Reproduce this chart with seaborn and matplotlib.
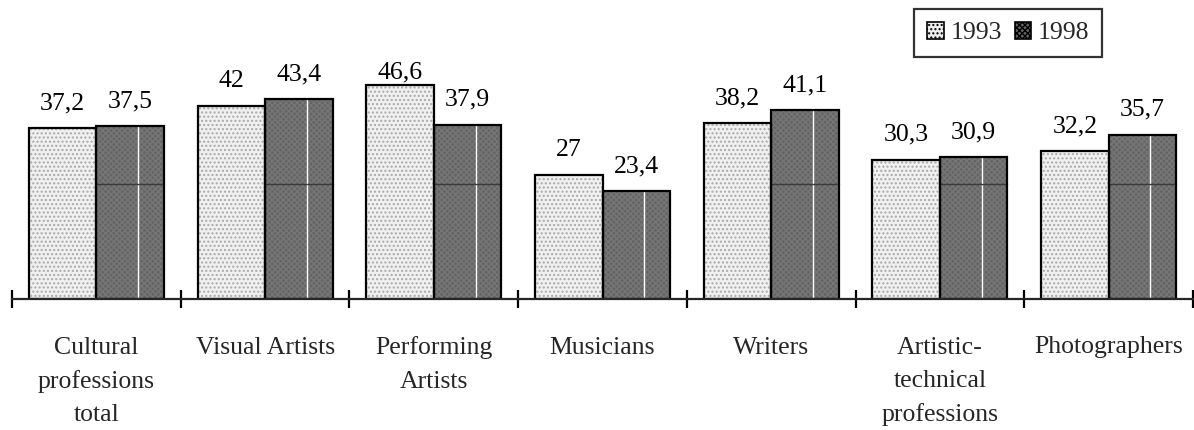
import matplotlib
matplotlib.use("Agg")
import matplotlib.pyplot as plt
from matplotlib.patches import Patch, Rectangle
import pandas as pd
import seaborn as sns

categories = [
    "Cultural\nprofessions\ntotal",
    "Visual Artists",
    "Performing\nArtists",
    "Musicians",
    "Writers",
    "Artistic-\ntechnical\nprofessions",
    "Photographers",
]
years = ["1993", "1998"]
values_1993 = [37.2, 42.0, 46.6, 27.0, 38.2, 30.3, 32.2]
values_1998 = [37.5, 43.4, 37.9, 23.4, 41.1, 30.9, 35.7]

df = pd.DataFrame({
    "category": categories * 2,
    "year": [years[0]] * len(categories) + [years[1]] * len(categories),
    "value": values_1993 + values_1998,
})

sns.set_style("white")
plt.rcParams["font.family"] = ["Liberation Serif", "DejaVu Serif"]
plt.rcParams["hatch.linewidth"] = 1.0

FS = 18.5
styles = {
    "1993": dict(face="#f0f0f0", hatch="....", hcol="#a8a8a8"),
    "1998": dict(face="#646464", hatch="xxxxxx", hcol="#767676"),
}

fig = plt.figure(figsize=(11.94, 4.30), dpi=100)
ax = fig.add_axes([12 / 1194, (430 - 299) / 430, 1181 / 1194, 230 / 430])

sns.barplot(data=df, x="category", y="value", hue="year", order=categories,
            hue_order=years, width=0.8, gap=0, dodge=True, legend=False,
            errorbar=None, ax=ax, zorder=2)

LABEL_GAP = 4.1      # data units between bar top and label baseline
LABEL_CEIL = 47.9    # highest baseline a value label may take

for year, cont in zip(years, ax.containers):
    st = styles[year]
    for bar, v in zip(cont, cont.datavalues):
        bar.set_facecolor(st["face"])
        bar.set_edgecolor(st["hcol"])
        bar.set_hatch(st["hatch"])
        bar.set_linewidth(0)
        x, y = bar.get_xy()
        w, h = bar.get_width(), bar.get_height()
        if year == "1998":
            # light seam and faint rule inside the dark bars
            ax.plot([x + 0.62 * w] * 2, [y, y + h], color="white", lw=1.0, zorder=3)
            if h > 25.1:
                ax.plot([x, x + w], [25.1, 25.1], color="#3a3a3a", lw=1.0, zorder=3)
        ax.add_patch(Rectangle((x, y), w, h, fill=False, ec="black", lw=1.6, zorder=4))
        ax.text(x + w / 2, min(v + LABEL_GAP, LABEL_CEIL), f"{v:g}".replace(".", ","),
                ha="center", va="baseline", fontsize=FS, color="black", zorder=6)

ax.set_xlim(-0.5, len(categories) - 0.5)
ax.set_ylim(0, 50)
ax.set_xlabel("")
ax.set_ylabel("")
ax.set_yticks([])
for side in ("top", "right", "left"):
    ax.spines[side].set_visible(False)
ax.spines["bottom"].set_linewidth(1.6)
ax.spines["bottom"].set_zorder(5)

ax.set_xticks(range(len(categories)))
ax.set_xticklabels(categories, fontsize=FS, linespacing=1.65)
ax.tick_params(axis="x", which="major", bottom=True, length=0, pad=27)
ax.set_xticks([i - 0.5 for i in range(len(categories) + 1)], minor=True)
ax.tick_params(axis="x", which="minor", bottom=True, direction="inout", length=12.5,
               width=1.6, color="black")

handles = [Patch(facecolor=styles[y]["face"], edgecolor="black", hatch=styles[y]["hatch"],
                 linewidth=1.2, label=y) for y in years]
leg = fig.legend(handles=handles, loc="upper right", ncol=2,
                 bbox_to_anchor=(1102 / 1194, 1 - 9 / 430), fontsize=FS,
                 frameon=True, fancybox=False, handlelength=0.65, handleheight=0.65,
                 handletextpad=0.25, columnspacing=0.5, borderpad=0.5,
                 borderaxespad=0)
leg.get_frame().set_edgecolor("black")
leg.get_frame().set_linewidth(1.6)

fig.savefig("out.png", dpi=100, facecolor="white")
